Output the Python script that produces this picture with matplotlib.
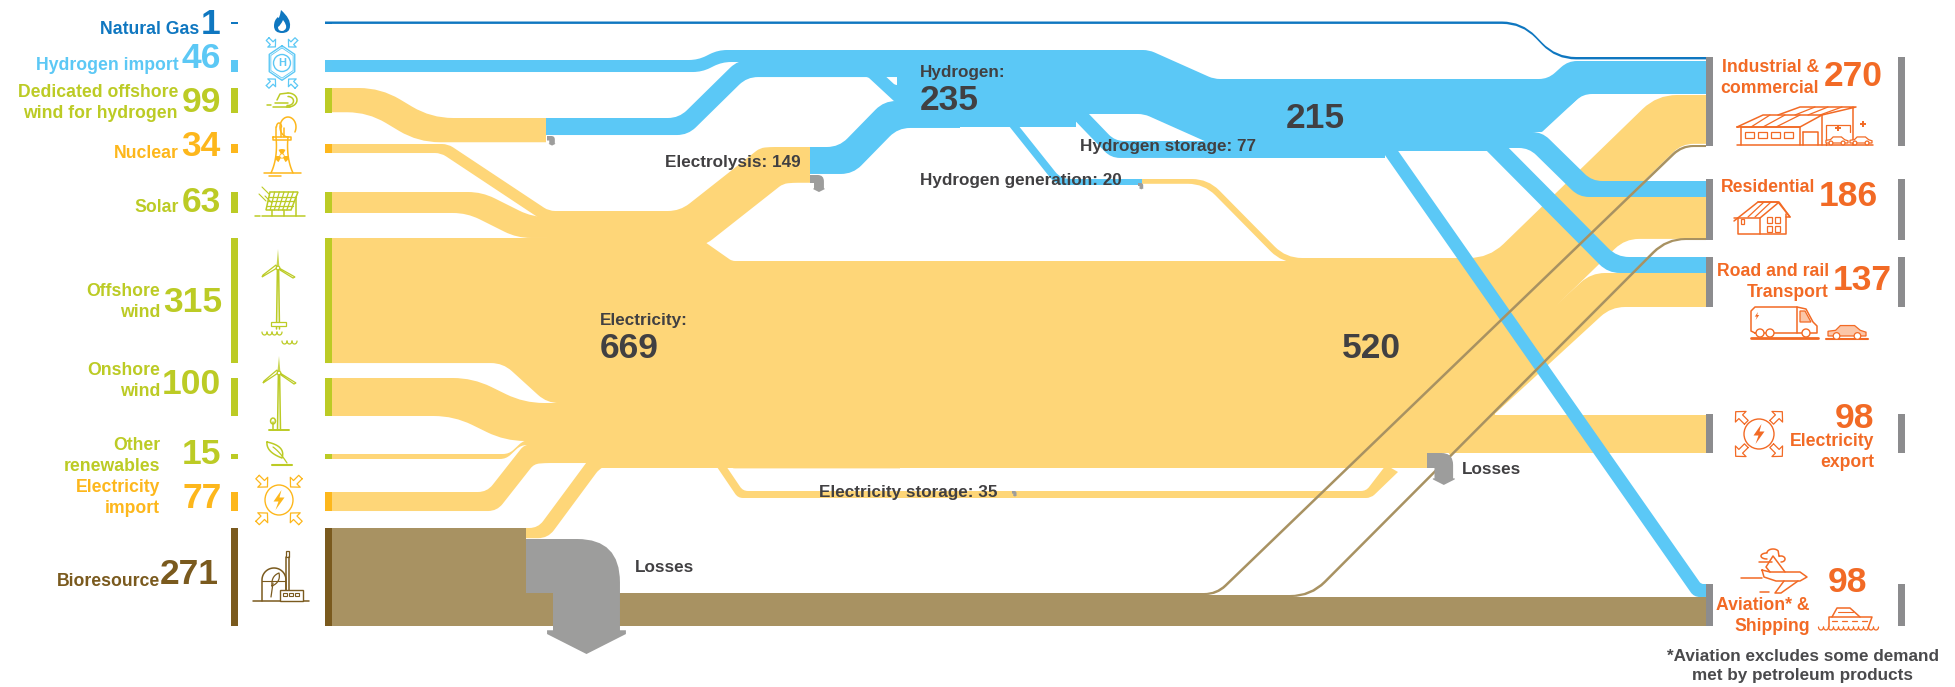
import numpy as np
import matplotlib
matplotlib.use("Agg")
import matplotlib.pyplot as plt
from matplotlib.path import Path
from matplotlib.patches import PathPatch, Polygon, Circle, Ellipse, Rectangle

# ---- energy balance values (TWh) ----
SUPPLY_NAMES = ["Natural Gas", "Hydrogen import", "Dedicated offshore\nwind for hydrogen", "Nuclear", "Solar",
                "Offshore\nwind", "Onshore\nwind", "Other\nrenewables", "Electricity\nimport", "Bioresource"]
SUPPLY_VALUES = [1, 46, 99, 34, 63, 315, 100, 15, 77, 271]
DEMAND_NAMES = ["Industrial &\ncommercial", "Residential", "Road and rail\nTransport", "Electricity\nexport",
                "Aviation* &\nShipping"]
DEMAND_VALUES = [270, 186, 137, 98, 98]
HUB_ELECTRICITY = 669
HUB_ELECTRICITY_NET = 520
HUB_HYDROGEN = 235
HUB_HYDROGEN_NET = 215
ELECTROLYSIS = 149
HYDROGEN_STORAGE = 77
HYDROGEN_GENERATION = 20
ELECTRICITY_STORAGE = 35

# estimated splits of each demand sector by carrier
IND_HYDROGEN, IND_ELECTRICITY, IND_BIO = 100, 148, 6
RES_HYDROGEN, RES_ELECTRICITY, RES_BIO = 48, 127, 6
ROAD_HYDROGEN, ROAD_ELECTRICITY = 48, 103
AVIATION_HYDROGEN, AVIATION_BIO = 39, 79
HYDROGEN_UPPER = 158

# ---- layout ----
W, H = 1955, 687
SUPPLY_TOP = [21.5, 60, 88, 144, 192, 238, 378, 454, 492, 528]
SUPPLY_SCALE = [2.5, 0.261, 0.2525, 0.265, 0.333, 0.397, 0.38, 0.333, 0.247, 0.362]
DEMAND_TOP = [57, 179, 257, 414, 584]
DEMAND_SCALE = [0.33, 0.328, 0.365, 0.398, 0.43]
C_GAS, C_H2TXT, C_GREEN, C_ORANGE, C_BROWN = "#0f77c0", "#5cc8f5", "#bccb25", "#fdb71c", "#7a5a1e"
SUPPLY_COLORS = [C_GAS, C_H2TXT, C_GREEN, C_ORANGE, C_GREEN, C_GREEN, C_GREEN, C_GREEN, C_ORANGE, C_BROWN]
YEL, BLU, TAN, GREY = "#fed678", "#5bc8f6", "#a89262", "#9d9d9c"
DARK, OUT, BARGREY = "#414042", "#f26a25", "#8c8c8e"
FONT = "Liberation Sans"

fig = plt.figure(figsize=(W / 100, H / 100), dpi=100)
ax = fig.add_axes([0, 0, 1, 1])
ax.set_xlim(0, W)
ax.set_ylim(H, 0)
ax.axis("off")


def rounded(points, r):
    """Vertices and codes of a polyline whose inner corners are rounded."""
    pts = [np.array(p, float) for p in points]
    verts, codes = [pts[0]], [Path.LINETO]
    for i in range(1, len(pts) - 1):
        a, v, b = pts[i - 1], pts[i], pts[i + 1]
        la, lb = np.linalg.norm(a - v), np.linalg.norm(b - v)
        rr = min(r, 0.48 * la, 0.48 * lb)
        verts += [v + (a - v) / la * rr, v, v + (b - v) / lb * rr]
        codes += [Path.LINETO, Path.CURVE3, Path.CURVE3]
    verts.append(pts[-1])
    codes.append(Path.LINETO)
    return verts, codes


def ribbon(value, k, route, color=YEL, dx=0, r=12, z=2):
    """Sankey band: thickness = value * k. The lower edge is the route moved down by the
    thickness and, at its inner points, sideways by dx (a third number on a point overrides dx)."""
    th = value * k
    top = [(p[0], p[1]) for p in route]
    bot = []
    for i, p in enumerate(route):
        inner = 0 < i < len(route) - 1
        d = p[2] if len(p) > 2 else (dx if inner else 0)
        bot.append((p[0] + d, p[1] + th))
    v1, c1 = rounded(top, r)
    v2, c2 = rounded(bot[::-1], r)
    c1[0] = Path.MOVETO
    verts = v1 + v2 + [v1[0]]
    codes = c1 + c2 + [Path.CLOSEPOLY]
    ax.add_patch(PathPatch(Path(verts, codes), fc=color, ec="none", lw=0, zorder=z))


def loss_arrow(x0, y0, s, z=5):
    """Grey elbow arrow leaving a node; s is the inlet height."""
    pts = [(0, 0), (0.95, 0), (1.74, 0), (1.74, 0.8), (1.74, 1.69), (1.85, 1.69), (1.85, 1.76), (1.12, 2.13),
           (0.39, 1.76), (0.39, 1.69), (0.5, 1.69), (0.5, 1.0), (0, 1.0), (0, 0)]
    codes = [Path.MOVETO, Path.LINETO, Path.CURVE3, Path.CURVE3] + [Path.LINETO] * 9 + [Path.CLOSEPOLY]
    ax.add_patch(PathPatch(Path([(x0 + a * s, y0 + b * s) for a, b in pts], codes), fc=GREY, ec="none", zorder=z))


def label(x, y, s, color=DARK, size=12.7, ha="left", ls=1.33):
    ax.text(x, y, s, color=color, fontsize=size, ha=ha, va="center", family=FONT, weight="bold",
            linespacing=ls, zorder=10)


# ---- yellow electricity flows ----
sv = dict(zip(range(10), SUPPLY_VALUES))
ribbon(sv[2], 0.245, [(325, 88), (381, 88), (431, 118), (546, 118)], dx=-13, r=22)
ribbon(sv[3], 0.265, [(325, 144), (448, 144), (549, 211), (565, 211)], dx=-7, r=6)
ribbon(sv[4], 0.333, [(325, 192), (482, 192), (532, 217), (565, 217)], dx=-15, r=14)
ribbon(sv[5], 0.397, [(325, 238), (700, 238)], r=0)
ribbon(sv[5], 0.397, [(325, 238), (503, 238), (547, 278), (700, 278)], r=12)
ribbon(sv[6], 0.38, [(325, 378), (473, 378), (524, 403), (700, 403)], dx=-19, r=20)
ribbon(sv[7], 0.333, [(325, 454), (509, 454), (524, 440), (600, 440)], dx=-3, r=6)
ribbon(sv[8], 0.247, [(325, 492), (487, 492), (524, 445), (535, 444), (620, 444)], dx=10, r=9)
ribbon(30, 0.34, [(520, 528), (538, 528), (592, 455), (640, 455)], dx=10, r=10)
ribbon(HUB_ELECTRICITY, 0.31, [(560, 240), (702, 240), (732, 261), (900, 261)], r=3)
ribbon(HUB_ELECTRICITY, 0.31, [(597, 261), (1428, 261)], r=0)
ribbon(HUB_ELECTRICITY_NET, 0.298, [(1420, 261), (1495, 261)], r=0)
ribbon(ELECTROLYSIS, 0.24, [(547, 211), (680, 211), (760, 148), (770, 147), (810, 147)], dx=23, r=12)
ribbon(ELECTRICITY_STORAGE, 0.2, [(722, 460, -5), (743, 491, -5), (1366, 491, 5), (1386, 465, 12)], r=5)
ribbon(HYDROGEN_GENERATION, 0.24, [(1142, 179), (1208, 179), (1286, 258), (1495, 258)], dx=-4, r=16)
ribbon(IND_ELECTRICITY, 0.33, [(1300, 258), (1489, 258), (1657, 95), (1706, 95)], dx=25, r=20)
ribbon(RES_ELECTRICITY, 0.33, [(1400, 372, 45), (1580, 197), (1706, 197)], dx=45, r=14)
ribbon(ROAD_ELECTRICITY, 0.33, [(1430, 421, 20), (1591, 273), (1706, 273)], dx=20, r=14)
ribbon(DEMAND_VALUES[3], 0.39, [(1390, 415), (1706, 415)], r=0)

# ---- blue hydrogen flows ----
ribbon(sv[1], 0.261, [(325, 60), (698, 60), (718, 50), (900, 50)], BLU, dx=4, r=9)
ribbon(sv[2], 0.172, [(546, 118), (679, 118), (738, 60), (950, 60)], BLU, dx=9, r=11)
ribbon(sv[2], 0.172, [(740, 60), (868, 60), (895, 85), (950, 85)], BLU, r=2)
ribbon(ELECTROLYSIS, 0.181, [(810, 147), (839, 147), (884, 101), (960, 101)], BLU, dx=14, r=12)
ribbon(HUB_HYDROGEN, 0.328, [(897, 50), (1076, 50)], BLU, r=0)
ribbon(HYDROGEN_UPPER, 0.405, [(897, 50), (1149, 50), (1214, 79), (1262, 79)], BLU, dx=-5, r=6)
ribbon(HYDROGEN_STORAGE, 0.22, [(1061, 85, -4), (1115, 141), (1385, 141)], BLU, dx=-4, r=9)
ribbon(HYDROGEN_GENERATION, 0.3, [(1010, 115, -5), (1061, 179), (1142, 179)], BLU, dx=-5, r=9)
ribbon(HUB_HYDROGEN_NET, 0.367, [(1205, 79), (1385, 79)], BLU, r=0)
ribbon(196, 0.367, [(1370, 79), (1502, 79)], BLU, r=0)
ribbon(IND_HYDROGEN, 0.33, [(1490, 79), (1548, 79), (1568, 61), (1706, 61)], BLU, dx=15, r=9)
ribbon(IND_HYDROGEN, 0.33, [(1495, 99), (1542, 99), (1583, 61), (1706, 61)], BLU, r=1)
ribbon(RES_HYDROGEN, 0.333, [(1460, 132), (1542, 132), (1592, 181), (1706, 181)], BLU, dx=-13, r=10)
ribbon(ROAD_HYDROGEN, 0.333, [(1480, 119, -9), (1617, 257), (1706, 257)], BLU, dx=-9, r=12)
ribbon(AVIATION_HYDROGEN, 0.333, [(1380, 125, -7), (1701, 584), (1706, 584)], BLU, dx=-7, r=8)

# ---- natural gas and bioresource flows ----
ribbon(AVIATION_BIO, 0.367, [(526, 597), (1706, 597)], TAN, r=0)
ribbon(sv[0], 2.4, [(325, 21.5), (1522, 21.5), (1556, 57), (1706, 57)], C_GAS, r=20, z=3)
ribbon(sv[9], 0.362, [(325, 528), (526, 528)], TAN, r=0)
ribbon(IND_BIO, 0.34, [(526, 593), (1216, 593), (1681, 145), (1706, 145)], TAN, dx=1.5, r=12, z=4)
ribbon(RES_BIO, 0.34, [(526, 595), (1310, 595), (1666, 238), (1706, 238)], TAN, dx=1.5, r=20, z=4)

# ---- losses ----
loss_arrow(526, 539, 54)
loss_arrow(1427, 453, 15)
loss_arrow(810, 175, 8)
loss_arrow(547, 136, 4.5)
loss_arrow(1138, 183, 3)
loss_arrow(1012, 491, 2.6)

# ---- end bars ----
for top, val, k, col in zip(SUPPLY_TOP, SUPPLY_VALUES, SUPPLY_SCALE, SUPPLY_COLORS):
    for x0 in (231.5, 325):
        ax.add_patch(Rectangle((x0, top), 7, val * k, fc=col, ec="none", zorder=6))
for top, val, k in zip(DEMAND_TOP, DEMAND_VALUES, DEMAND_SCALE):
    for x0 in (1706, 1898):
        ax.add_patch(Rectangle((x0, top), 7, val * k, fc=BARGREY, ec="none", zorder=6))

# ---- supply labels ----
NUM = 25.5
LABEL_RIGHT = [199, 179, 178, 179, 179, 160, 160, 160, 160, 160]
LABEL_Y = [29, 65, 103, 153, 208, 302, 381, 456, 498, 581]
NUM_RIGHT = [221, 221, 221, 221, 221, 222, 221, 221, 221.5, 219]
NUM_Y = [24, 58, 102, 147, 202, 302, 384, 455, 498, 575]
for i, name in enumerate(SUPPLY_NAMES):
    label(LABEL_RIGHT[i], LABEL_Y[i], name, SUPPLY_COLORS[i], ha="right")
    label(NUM_RIGHT[i], NUM_Y[i], str(SUPPLY_VALUES[i]), SUPPLY_COLORS[i], NUM, ha="right")

# ---- demand labels ----
DEM_X = [1819, 1815, 1829, 1874, 1810]
DEM_Y = [78, 188, 282, 452, 616]
NUM_X = [1883, 1878, 1892, 1874, 1867]
DEM_NUM_Y = [76, 196, 281, 418, 582]
for i, name in enumerate(DEMAND_NAMES):
    label(DEM_X[i], DEM_Y[i], name, OUT, ha="right")
    label(NUM_X[i], DEM_NUM_Y[i], str(DEMAND_VALUES[i]), OUT, NUM, ha="right")
ax.text(1803, 666, "*Aviation excludes some demand\nmet by petroleum products", color="#4a4a4c", fontsize=12.3,
        ha="center", va="center", family=FONT, weight="bold", linespacing=1.4, zorder=10)

# ---- flow labels ----
MID = 12.3
label(600, 321, "Electricity:", size=MID)
label(600, 348, str(HUB_ELECTRICITY), size=NUM)
label(1342, 349, str(HUB_ELECTRICITY_NET), size=NUM)
label(920, 73, "Hydrogen:", size=MID)
label(920, 100, str(HUB_HYDROGEN), size=NUM)
label(1286, 118, str(HUB_HYDROGEN_NET), size=NUM)
label(665, 162, f"Electrolysis: {ELECTROLYSIS}", size=MID)
label(1080, 147, f"Hydrogen storage: {HYDROGEN_STORAGE}", size=MID)
label(920, 181, f"Hydrogen generation: {HYDROGEN_GENERATION}", size=MID)
label(819, 493, f"Electricity storage: {ELECTRICITY_STORAGE}", size=MID)
label(635, 567, "Losses", size=MID)
label(1462, 469, "Losses", size=MID)


# ---- pictograms ----
def stroke(pts, c, lw=1.1, z=8):
    a = np.array(pts, float)
    ax.plot(a[:, 0], a[:, 1], color=c, lw=lw, solid_capstyle="round", solid_joinstyle="round", zorder=z)


def curve(p0, p1, p2, n=16):
    t = np.linspace(0, 1, n)[:, None]
    p0, p1, p2 = map(np.array, (p0, p1, p2))
    return (1 - t) ** 2 * p0 + 2 * t * (1 - t) * p1 + t ** 2 * p2


def arc(cx, cy, rx, ry, a0, a1, n=30):
    t = np.radians(np.linspace(a0, a1, n))
    return np.c_[cx + rx * np.cos(t), cy + ry * np.sin(t)]


def block_arrow(cx, cy, ang, s, c):
    base = np.array([(-1, -0.35), (0.05, -0.35), (0.05, -1), (1, 0), (0.05, 1), (0.05, 0.35), (-1, 0.35), (-1, -0.35)])
    t = np.radians(ang)
    rot = np.array([[np.cos(t), -np.sin(t)], [np.sin(t), np.cos(t)]])
    stroke(base @ rot.T * s + [cx, cy], c, 0.9)


def four_arrows(cx, cy, dx, dy, inward, c, s=9):
    for sx, sy, a in ((-1, -1, 225), (1, -1, 315), (-1, 1, 135), (1, 1, 45)):
        block_arrow(cx + sx * dx, cy + sy * dy, a + (180 if inward else 0), s, c)


def bolt(cx, cy, s, c):
    pts = [(0.25, -1), (-0.55, 0.15), (-0.05, 0.15), (-0.35, 1), (0.55, -0.25), (0.05, -0.25), (0.25, -1)]
    ax.add_patch(Polygon([(cx + a * s, cy + b * s) for a, b in pts], fc=c, ec="none", zorder=8))


def flame(cx, cy):
    outer = Path([(cx - 1, cy - 12), (cx + 9, cy - 3), (cx + 8, cy + 4), (cx + 8, cy + 11), (cx, cy + 11),
                  (cx - 8, cy + 11), (cx - 8, cy + 4), (cx - 8, cy - 2), (cx - 4, cy - 5), (cx - 3, cy - 1),
                  (cx - 1, cy - 12)],
                 [1, 3, 3, 3, 3, 3, 3, 3, 3, 3, 3])
    ax.add_patch(PathPatch(outer, fc=C_GAS, ec="none", zorder=8))
    inner = Path([(cx + 1, cy - 2), (cx + 5, cy + 3), (cx + 4, cy + 6), (cx + 3, cy + 9), (cx, cy + 9),
                  (cx - 4, cy + 9), (cx - 4, cy + 5), (cx - 1, cy + 3), (cx + 1, cy - 2)],
                 [1, 3, 3, 3, 3, 3, 3, 3, 3])
    ax.add_patch(PathPatch(inner, fc="white", ec="none", zorder=9))


def turbine(x, hub, top, tip_y, base, c):
    stroke([(x - 1.5, base), (x - 0.6, hub), (x + 0.6, hub), (x + 1.5, base)], c)
    ax.add_patch(Polygon([(x, top), (x + 1.3, hub - 2), (x - 1.5, hub - 2)], fc=c, ec="none", alpha=0.8, zorder=8))
    ax.add_patch(Polygon([(x - 1, hub), (x - 16, tip_y), (x - 15, tip_y - 2), (x - 2, hub - 3)], fc="white", ec=c,
                         lw=0.9, zorder=8))
    ax.add_patch(Polygon([(x + 1, hub), (x + 17, tip_y), (x + 15, tip_y + 1), (x + 2, hub + 2)], fc="white", ec=c,
                         lw=0.9, zorder=8))
    ax.add_patch(Circle((x, hub), 1.8, fc="white", ec=c, lw=0.9, zorder=9))


def waves(x0, y0, n, c):
    for i in range(n):
        stroke(arc(x0 + i * 5 + 2.5, y0, 2.5, 3, 0, 180), c, 0.9)


# natural gas
flame(282, 22)

# hydrogen import
ang = np.radians(np.arange(-90, 271, 60))
for rr, lw in ((16, 1.0), (14, 0.6)):
    stroke(np.c_[282 + rr * 0.92 * np.cos(ang), 63 + rr * 1.08 * np.sin(ang)], C_H2TXT, lw)
ax.add_patch(Circle((282, 63), 8.5, fc="white", ec=C_H2TXT, lw=1, zorder=8))
ax.text(282, 63.5, "H", color=C_H2TXT, fontsize=8, ha="center", va="center", family=FONT, weight="bold", zorder=9)
four_arrows(282, 63, 10.5, 20, True, C_H2TXT, 5.5)

# dedicated offshore wind
stroke(arc(288, 100, 9, 7, -90, 100), C_GREEN)
stroke(arc(288, 101, 5.5, 4.5, -90, 100), C_GREEN)
stroke([(275, 103), (288, 103)], C_GREEN)
stroke([(273, 107), (290, 107)], C_GREEN)
stroke([(267, 105), (271, 105)], C_GREEN)
stroke([(288, 93), (280, 94), (277, 100)], C_GREEN)

# nuclear
stroke([(264, 173), (301, 173)], C_ORANGE)
stroke(curve((288, 137), (286, 158), (293, 173)), C_ORANGE)
stroke(curve((276, 137), (278, 158), (271, 173)), C_ORANGE)
stroke([(273, 137), (291, 137), (291, 140), (273, 140), (273, 137)], C_ORANGE)
stroke(arc(279, 127, 2.5, 4, 180, 360), C_ORANGE)
stroke([(276.5, 127), (276.5, 137)], C_ORANGE)
stroke([(281.5, 127), (281.5, 137)], C_ORANGE)
stroke(arc(288, 127, 8, 10, 90, 390), C_ORANGE)
stroke([(284, 137), (284, 128)], C_ORANGE)
stroke([(269, 176), (281, 176)], C_ORANGE)
for a0 in (150, 270, 30):
    w = arc(282, 156, 7, 7, a0 - 30, a0 + 30, 8)
    ax.add_patch(Polygon(np.vstack([[282, 156], w]), fc=C_ORANGE, ec="none", zorder=8))
ax.add_patch(Circle((282, 156), 2.2, fc="white", ec=C_ORANGE, lw=0.6, zorder=9))

# solar
px = [(270, 192), (298, 192), (291, 210), (266, 210)]
ax.add_patch(Polygon(px, fc="white", ec=C_GREEN, lw=1.1, zorder=8))
for t in np.linspace(0, 1, 7)[1:-1]:
    stroke([(270 + 28 * t, 192), (266 + 25 * t, 210)], C_GREEN, 0.9)
for t in (0.25, 0.5, 0.75):
    stroke([(270 - 4 * t, 192 + 18 * t), (298 - 7 * t, 192 + 18 * t)], C_GREEN, 0.9)
stroke([(262, 216), (305, 216)], C_GREEN)
stroke([(255, 216), (260, 216)], C_GREEN)
stroke([(272, 210), (272, 216)], C_GREEN)
stroke([(284, 210), (284, 216)], C_GREEN)
stroke([(296, 197), (296, 216)], C_GREEN)
for x0, y0 in ((262, 187), (259, 194), (265, 196)):
    stroke([(x0, y0), (x0 + 7, y0 + 7)], C_GREEN, 0.8)

# wind turbines
turbine(278, 268, 249, 277, 329, C_GREEN)
ax.add_patch(Rectangle((271, 322), 15, 3.5, fc="white", ec=C_GREEN, lw=0.9, zorder=9))
waves(262, 332, 4, C_GREEN)
waves(282, 341, 3, C_GREEN)
turbine(279, 373, 356, 383, 430, C_GREEN)
stroke([(269, 430), (289, 430)], C_GREEN, 1.4)
stroke([(273, 430), (273, 422)], C_GREEN)
stroke(arc(273, 421, 2.5, 3, 0, 360, 12), C_GREEN)

# other renewables
stroke(np.vstack([curve((267, 442), (266, 452), (282, 458)), curve((282, 458), (286, 446), (267, 442))]), C_GREEN)
stroke(curve((273, 447), (280, 452), (287, 463)), C_GREEN, 0.9)
stroke([(272, 464.5), (292, 464.5)], C_GREEN, 1.5)

# electricity import
ax.add_patch(Ellipse((279, 500), 28, 30, fc="white", ec=C_ORANGE, lw=1, zorder=8))
bolt(279, 500, 10, C_ORANGE)
four_arrows(279, 500, 16.5, 18, True, C_ORANGE, 7)

# bioresource plant
B = C_BROWN
stroke([(253, 601), (309, 601)], B)
stroke([(262, 601), *arc(274, 580, 12, 12, 180, 360).tolist(), (286, 590)], B)
stroke([(262, 581), (285, 581)], B, 0.8)
ax.add_patch(Rectangle((280, 590), 23, 11, fc="white", ec=B, lw=1, zorder=8))
for x0 in (283, 289, 295):
    ax.add_patch(Rectangle((x0, 593), 4, 3, fc="white", ec=B, lw=0.8, zorder=9))
ax.add_patch(Rectangle((286, 551), 3.5, 6, fc="white", ec=B, lw=0.9, zorder=8))
stroke([(286.5, 557), (286.5, 590)], B)
stroke([(289, 557), (289, 590)], B)
stroke(np.vstack([curve((272, 586), (271, 576), (279, 573)), curve((279, 573), (281, 582), (272, 586))]), B, 0.9)
stroke([(271, 597), (273, 583)], B, 0.9)

# factory
F = OUT
stroke([(1737, 145), (1873, 145)], F)
stroke([(1741, 145), (1741, 127), (1800, 127), (1800, 145)], F)
stroke([(1737, 127), (1763, 115), (1822, 115), (1800, 127), (1737, 127)], F)
for x0, x1 in ((1751, 1770), (1763, 1785), (1776, 1800)):
    stroke([(x0, 127), (x1, 115)], F, 0.9)
stroke([(1778, 115), (1800, 107), (1856, 107), (1822, 115)], F)
for x0, x1 in ((1795, 1815), (1808, 1828), (1820, 1842)):
    stroke([(x0, 115), (x1, 107)], F, 0.9)
stroke([(1822, 115), (1822, 145)], F)
stroke([(1853, 107), (1853, 145)], F)
stroke([(1803, 132), (1818, 132), (1818, 145)], F)
stroke([(1803, 132), (1803, 145)], F)
for x0 in (1745, 1758, 1771, 1784):
    ax.add_patch(Rectangle((x0, 132), 9, 5.5, fc="white", ec=F, lw=0.9, zorder=8))
stroke([(1826, 145), (1826, 125), (1850, 125), (1850, 132)], F, 0.9)


def car(x, y, s, c, fill="white"):
    pts = [(0, 0), (0, -5), (8, -6), (13, -11), (28, -11), (34, -6), (40, -4), (40, 0), (0, 0)]
    ax.add_patch(Polygon([(x + a * s, y + b * s) for a, b in pts], fc=fill, ec=c, lw=0.9, zorder=8))
    for wx in (9, 31):
        ax.add_patch(Circle((x + wx * s, y), 3.5 * s, fc="white", ec=c, lw=0.9, zorder=9))


car(1826, 143, 0.55, F)
car(1850, 143, 0.55, F)
ax.plot([1838, 1863], [128, 124], ls="none", marker="+", color=F, ms=5, mew=1.4, zorder=8)

# house
stroke([(1734, 221), (1758, 202), (1779, 202), (1790, 217)], F)
stroke([(1758, 202), (1778, 202), (1790, 217), (1786, 217)], F)
stroke([(1738, 218), (1738, 234), (1786, 234), (1786, 214)], F)
stroke([(1734, 218), (1760, 218), (1778, 203)], F)
stroke([(1760, 218), (1760, 234)], F)
stroke([(1748, 217), (1764, 202)], F, 0.9)
stroke([(1755, 217), (1771, 202)], F, 0.9)
for x0, y0 in ((1767, 217), (1775, 217), (1767, 226), (1775, 226)):
    ax.add_patch(Rectangle((x0, y0), 5, 6, fc="white", ec=F, lw=0.9, zorder=8))
ax.add_patch(Rectangle((1741, 219), 3.5, 5, fc="white", ec=F, lw=0.9, zorder=8))

# van and car
stroke([(1755, 333), (1751, 331), (1751, 311), (1755, 307), (1797, 307), (1806, 309), (1813, 322), (1817, 326),
        (1817, 333), (1755, 333)], F)
stroke([(1797, 307), (1797, 333)], F)
ax.add_patch(Polygon([(1800, 311), (1805, 311), (1811, 322), (1800, 322)], fc="#fbc6a8", ec=F, lw=0.9, zorder=8))
for wx in (1760, 1770, 1806):
    ax.add_patch(Circle((wx, 333), 4, fc="white", ec=F, lw=1, zorder=9))
bolt(1757, 316, 4, F)
stroke([(1751, 338), (1818, 338)], F, 2)
car(1828, 336, 0.95, F, "#fbc6a8")
stroke([(1826, 339), (1868, 339)], F, 1.5)

# electricity export
ax.add_patch(Ellipse((1759, 434), 30, 30, fc="white", ec=F, lw=1, zorder=8))
bolt(1759, 434, 10, F)
four_arrows(1759, 434, 18, 17, False, F, 7.5)

# aviation and shipping
stroke([(1762, 570), (1770, 572), (1800, 572), (1807, 577), (1800, 581), (1776, 581), (1764, 577), (1762, 570)], F)
stroke([(1770, 572), (1766, 567), (1773, 556), (1785, 572)], F)
stroke([(1784, 581), (1775, 593), (1781, 593), (1798, 581)], F)
stroke([(1741, 578), (1762, 578)], F)
stroke([(1760, 592), (1769, 592)], F)
stroke(np.vstack([arc(1767, 556, 6, 3, 90, 270), arc(1773, 553, 6, 4, 180, 330), arc(1781, 559, 4, 3, 240, 450)]), F)
stroke([(1759, 562), (1772, 562)], F)
stroke([(1829, 627), (1829, 617), (1872, 617), (1868, 628)], F)
stroke([(1832, 617), (1837, 608), (1850, 608), (1860, 617)], F)
stroke([(1838, 612), (1853, 612)], F, 0.8)
for x0 in (1832, 1842, 1852, 1862):
    stroke([(x0, 621), (x0 + 5, 621)], F, 0.9)
for i in range(12):
    stroke(arc(1821 + i * 5, 627, 2.5, 3, 0, 180), F, 0.9)

fig.savefig("out.png", dpi=100, facecolor="white")
